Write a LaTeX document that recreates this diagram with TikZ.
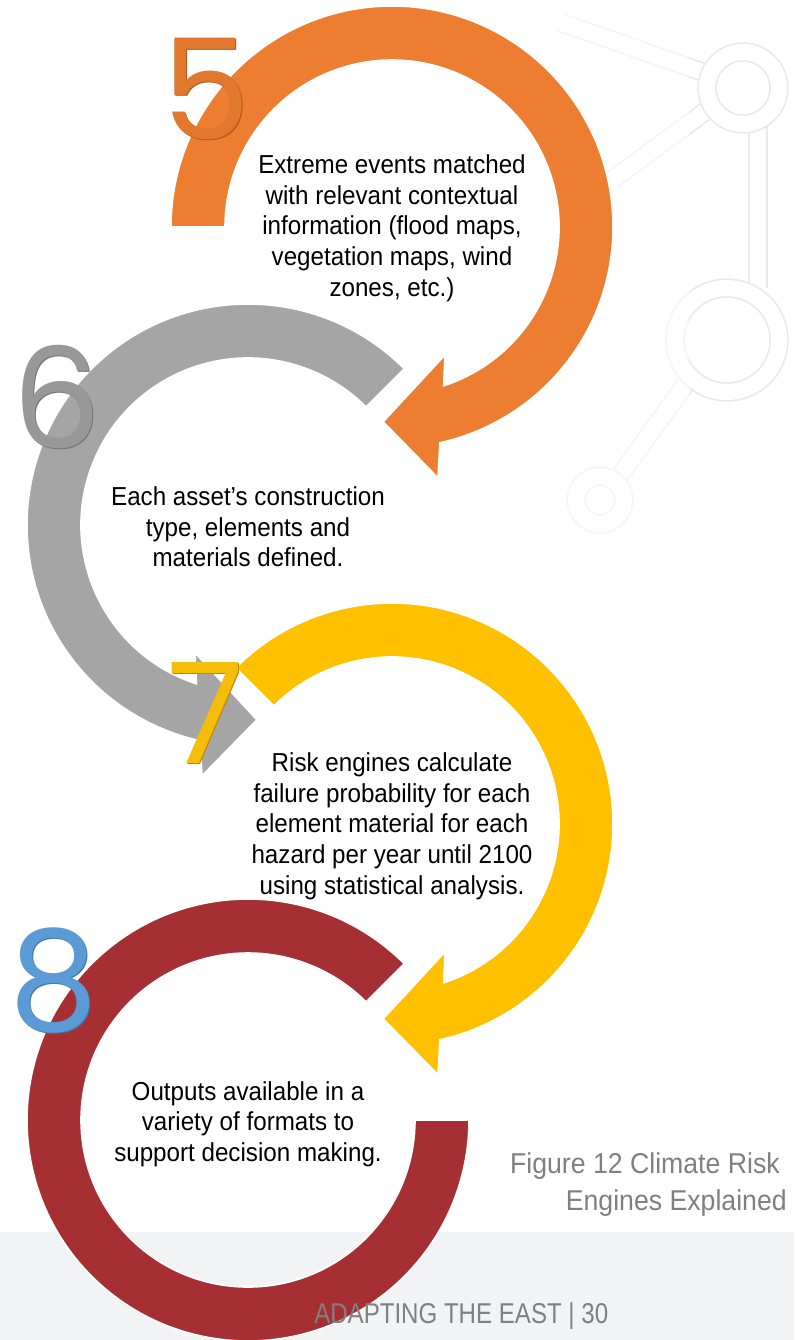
\documentclass[tikz,border=0pt]{standalone}
\usepackage{fontspec}
\setmainfont{Liberation Sans}
\newfontfamily\bodyfont{Liberation Sans}[FakeStretch=0.93]
\newfontfamily\footfont{Liberation Sans}[FakeStretch=0.84]
\newfontfamily\numfont{Poppins}

\newlength{\du}
\setlength{\du}{0.75pt}

\definecolor{ringorange}{RGB}{237,125,49}
\definecolor{ringgray}{RGB}{165,165,165}
\definecolor{ringyellow}{RGB}{255,192,0}
\definecolor{ringred}{RGB}{166,47,51}
\definecolor{numorange}{RGB}{226,120,46}
\definecolor{numorangeshade}{RGB}{178,88,30}
\definecolor{numgray}{RGB}{152,152,152}
\definecolor{numgrayshade}{RGB}{118,118,118}
\definecolor{numyellow}{RGB}{246,188,10}
\definecolor{numyellowshade}{RGB}{190,140,0}
\definecolor{numblue}{RGB}{91,155,213}
\definecolor{numblueshade}{RGB}{62,118,172}
\definecolor{capgray}{RGB}{128,128,128}
\definecolor{bandgray}{RGB}{241,243,245}
\definecolor{wmgray}{RGB}{234,234,234}

\tikzset{
  ring/.style={draw=white, line width=1.2pt, line join=miter},
  bodytext/.style={align=center, inner sep=0pt, text=black,
    font=\bodyfont\fontsize{19.5}{23}\selectfont},
  numtext/.style={anchor=base, inner sep=0pt,
    font=\numfont\fontsize{105}{105}\selectfont},
  captext/.style={anchor=base east, inner sep=0pt, text=capgray,
    font=\bodyfont\fontsize{21.5}{27}\selectfont},
  foottext/.style={anchor=base west, inner sep=0pt, text=capgray,
    font=\footfont\fontsize{21.5}{27}\selectfont},
  wmline/.style={draw=wmgray, double=white, double distance=12pt, line width=1.3pt},
}

\begin{document}
\begin{tikzpicture}[yscale=-1]
\useasboundingbox (0,0) rectangle (794\du,1340\du);

% faint logo in the background
\draw[wmline] (758\du,124\du) -- (758\du,288\du);
\draw[wmline] (708\du,74\du) -- (560\du,22\du);
\draw[wmline] (710\du,108\du) -- (612\du,180\du);
\draw[wmline] (690\du,378\du) -- (618\du,478\du);
\draw[wmline] (743\du,88\du) circle[radius=36\du];
\draw[wmline] (727\du,340\du) circle[radius=52\du];
\draw[wmline] (600\du,500\du) circle[radius=24\du];
\fill[white, opacity=0.6] (0,0) rectangle (689\du,640\du);

% page footer band
\fill[bandgray] (0,1232\du) rectangle (794\du,1340\du);

% ring 8
\begin{scope}[shift={(248\du,1120\du)}]
\filldraw[ring, fill=ringred] (-45:221\du) arc[start angle=-45, end angle=-360, radius=221\du]
  -- (0:167\du) arc[start angle=-360, end angle=-45, radius=167\du] -- cycle;
\end{scope}

% ring 7
\begin{scope}[shift={(392\du,824\du)}]
\filldraw[ring, fill=ringyellow] (-135:221\du) arc[start angle=-135, end angle=77.5, radius=221\du]
  -- (79.6:255\du) -- (92.6:195\du) -- (67.5:138.5\du)
  -- (72:167\du) arc[start angle=72, end angle=-135, radius=167\du] -- cycle;
\end{scope}

% ring 6
\begin{scope}[shift={(248\du,525\du)}]
\filldraw[ring, fill=ringgray] (-45:221\du) arc[start angle=-45, end angle=-257.5, radius=221\du]
  -- (-259.6:255\du) -- (-272.6:195\du) -- (-247.5:138.5\du)
  -- (-252:167\du) arc[start angle=-252, end angle=-45, radius=167\du] -- cycle;
\end{scope}

% ring 5
\begin{scope}[shift={(392\du,227\du)}]
\filldraw[ring, fill=ringorange] (-180:221\du) arc[start angle=-180, end angle=77.5, radius=221\du]
  -- (79.6:255\du) -- (92.6:195\du) -- (67.5:138.5\du)
  -- (72:167\du) arc[start angle=72, end angle=-180, radius=167\du] -- cycle;
\end{scope}

% step numbers
\node[numtext, text=numorangeshade] (num5s) at (207\du,140\du) {5};
\node[numtext, text=numorange] (num5) at (206\du,139\du) {5};
\node[numtext, text=numgrayshade] (num6s) at (58\du,449\du) {6};
\node[numtext, text=numgray] (num6) at (57\du,448\du) {6};
\node[numtext, text=numyellowshade] (num7s) at (207\du,764\du) {7};
\node[numtext, text=numyellow] (num7) at (206\du,763\du) {7};
\node[numtext, text=numblueshade] (num8s) at (55\du,1031\du) {8};
\node[numtext, text=numblue] (num8) at (54\du,1030\du) {8};

% step texts
\node[bodytext] (txt5) at (392\du,228\du) {Extreme events matched\\with relevant contextual\\information (flood maps,\\vegetation maps, wind\\zones, etc.)};
\node[bodytext] (txt6) at (248\du,527\du) {Each asset’s construction\\type, elements and\\materials defined.};
\node[bodytext] (txt7) at (392\du,826\du) {Risk engines calculate\\failure probability for each\\element material for each\\hazard per year until 2100\\using statistical analysis.};
\node[bodytext] (txt8) at (248\du,1124\du) {Outputs available in a\\variety of formats to\\support decision making.};

% caption and footer
\node[captext] (cap1) at (780\du,1173\du) {Figure 12 Climate Risk};
\node[captext] (cap2) at (787\du,1210\du) {Engines Explained};
\node[foottext] (foot) at (314\du,1323\du) {ADAPTING THE EAST | 30};
\end{tikzpicture}
\end{document}
